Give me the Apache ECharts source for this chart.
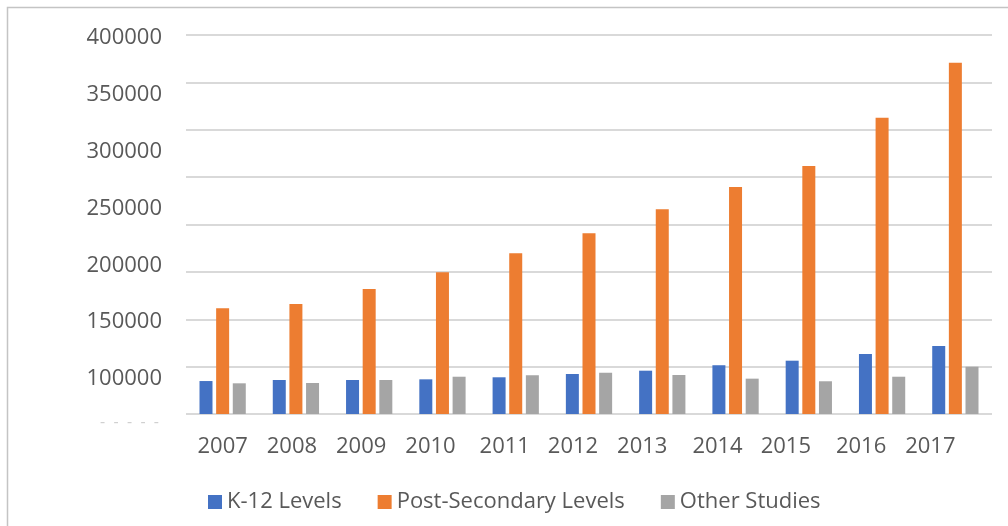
<!DOCTYPE html>
<html>
<head>
<meta charset="utf-8">
<script src="https://cdn.jsdelivr.net/npm/echarts@6/dist/echarts.min.js"></script>
<style>
  html, body { margin: 0; padding: 0; background: #fff; }
  #chart { width: 1008px; height: 526px; }
</style>
</head>
<body>
<div id="chart"></div>
<script>
var myChart = echarts.init(document.getElementById("chart"));

var years = ['2007', '2008', '2009', '2010', '2011', '2012', '2013', '2014', '2015', '2016', '2017'];
var k12 = [98200, 99100, 99100, 99700, 101500, 104400, 107300, 112100, 116100, 122000, 129000];
var postSecondary = [162200, 166000, 179200, 193900, 210600, 228200, 249300, 268900, 287400, 329900, 378300];
var otherStudies = [96200, 96500, 99100, 102000, 103300, 105500, 103500, 100300, 98000, 102000, 110800];
var tickLabels = [100000, 150000, 200000, 250000, 300000, 350000, 400000];

// year labels in the picture drift left of their bars
var labelShift = [0, 4, 8, 12, 11, 16, 20, 18, 23, 21, 25];

var labelFont = "'Open Sans', 'DejaVu Sans', sans-serif";
var textGray = '#595959';

var rich = {};
labelShift.forEach(function(s, i) {
	rich['p' + i] = {
		fontSize: 22,
		fontFamily: labelFont,
		color: textGray,
		padding: [0, s * 2, 0, 0]
	};
});

var option = {
	backgroundColor: '#ffffff',
	animation: false,
	color: ['#4472C4', '#ED7D31', '#A5A5A5'],
	grid: {
		left: 186,
		right: 16,
		top: 35,
		bottom: 112
	},
	legend: {
		left: 203,
		top: 486,
		itemWidth: 14,
		itemHeight: 14,
		itemGap: 36,
		icon: 'rect',
		textStyle: {
			fontSize: 22,
			fontFamily: labelFont,
			color: textGray
		},
		data: ['K-12 Levels', 'Post-Secondary Levels', 'Other Studies']
	},
	graphic: [{
		type: 'rect',
		silent: true,
		shape: { x: 7.5, y: 7.5, width: 1100, height: 600 },
		style: { fill: 'none', stroke: '#c4c4c4', lineWidth: 1.5 }
	}, {
		type: 'text',
		silent: true,
		left: 100,
		top: 414,
		style: {
			text: '-  -  -  -  -',
			fontSize: 16,
			fontFamily: labelFont,
			fill: '#d0d0d0'
		}
	}],
	xAxis: {
		type: 'category',
		data: years,
		axisLine: { show: false },
		axisTick: { show: false },
		axisLabel: {
			margin: 22,
			interval: 0,
			hideOverlap: false,
			formatter: function(value, index) {
				return '{p' + index + '|' + value + '}';
			},
			rich: rich
		}
	},
	yAxis: [{
		type: 'value',
		min: 0,
		max: 400000,
		interval: 50000,
		axisLabel: { show: false },
		axisLine: { show: false },
		axisTick: { show: false },
		splitLine: {
			show: true,
			lineStyle: { color: '#d9d9d9', width: 1.8 }
		}
	}, {
		type: 'value',
		position: 'left',
		min: 69200,
		max: 402640,
		axisLine: { show: false },
		axisTick: { show: false },
		splitLine: { show: false },
		axisLabel: {
			customValues: tickLabels,
			margin: 24,
			fontSize: 22,
			fontFamily: labelFont,
			color: textGray,
			formatter: function(v) { return String(v); }
		}
	}],
	series: [{
		name: 'K-12 Levels',
		type: 'bar',
		yAxisIndex: 1,
		barWidth: 13,
		barGap: '28%',
		data: k12
	}, {
		name: 'Post-Secondary Levels',
		type: 'bar',
		yAxisIndex: 1,
		barWidth: 13,
		barGap: '28%',
		data: postSecondary
	}, {
		name: 'Other Studies',
		type: 'bar',
		yAxisIndex: 1,
		barWidth: 13,
		barGap: '28%',
		data: otherStudies
	}]
};

myChart.setOption(option);
</script>
</body>
</html>
